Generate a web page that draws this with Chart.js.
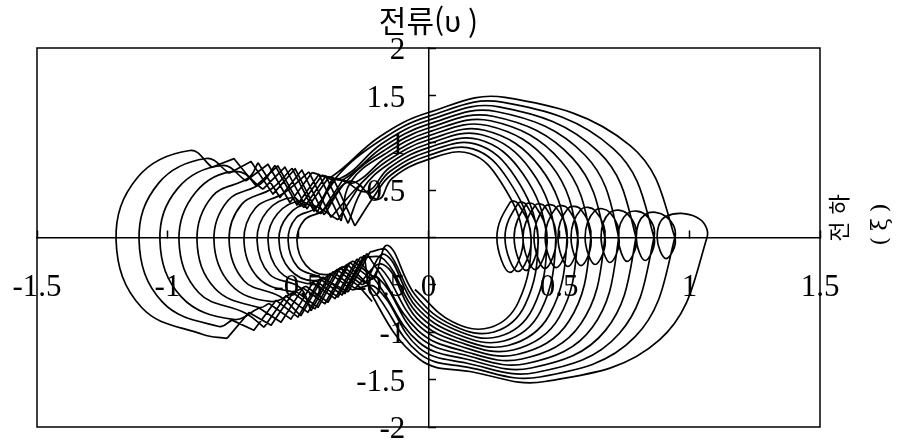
<!DOCTYPE html>
<html lang="ko">
<head>
<meta charset="utf-8">
<title>전류-전하 위상 궤적</title>
<script src="https://cdn.jsdelivr.net/npm/chart.js@4.4.1/dist/chart.umd.min.js"></script>
<style>
  html, body { margin: 0; padding: 0; background: #fff; }
  canvas { display: block; }
</style>
</head>
<body>
<canvas id="phase" width="906" height="446"></canvas>
<script>
// 축 눈금
const xTicks = [-1.5, -1, -0.5, 0, 0.5, 1, 1.5];
const yTicks = [-2, -1.5, -1, -0.5, 0, 0.5, 1, 1.5, 2];

// 왼쪽 고리 (바깥 -> 안쪽, 13회)
const leftEdge = [[-1.197,-0.03],[-1.109,-0.03],[-1.029,-0.03],[-0.956,-0.03],[-0.887,-0.03],[-0.822,-0.03],[-0.764,-0.03],[-0.707,-0.03],[-0.657,-0.03],[-0.615,-0.03],[-0.573,-0.03],[-0.538,-0.03],[-0.504,-0.03]];
const loopTop = [[-0.914,0.918],[-0.852,0.834],[-0.791,0.760],[-0.738,0.697],[-0.688,0.633],[-0.642,0.570],[-0.600,0.517],[-0.557,0.464],[-0.519,0.422],[-0.489,0.380],[-0.458,0.348],[-0.431,0.317],[-0.404,0.285]];
const loopUpperDiag = [[-1.115,0.633],[-1.034,0.574],[-0.960,0.521],[-0.892,0.477],[-0.829,0.433],[-0.769,0.387],[-0.716,0.350],[-0.663,0.312],[-0.617,0.283],[-0.578,0.253],[-0.539,0.231],[-0.507,0.208],[-0.475,0.186]];
const loopLowerDiag = [[-1.099,-0.739],[-1.020,-0.680],[-0.947,-0.627],[-0.880,-0.583],[-0.818,-0.538],[-0.759,-0.493],[-0.707,-0.456],[-0.655,-0.418],[-0.609,-0.388],[-0.571,-0.359],[-0.532,-0.337],[-0.501,-0.313],[-0.470,-0.291]];
const loopBottom = [[-0.864,-1.024],[-0.803,-0.939],[-0.749,-0.865],[-0.699,-0.802],[-0.649,-0.739],[-0.607,-0.675],[-0.569,-0.623],[-0.527,-0.570],[-0.492,-0.528],[-0.466,-0.485],[-0.435,-0.454],[-0.412,-0.422],[-0.389,-0.391]];

// 위쪽 그물 띠: 고리 꼭대기 다음 꺾임점들, 마지막 점은 큰 호 시작점
const upperBand = [
  [[-0.830,0.742],[-0.745,0.832],[-0.661,0.546],[-0.577,0.756],[-0.492,0.331],[-0.408,0.658],[-0.370,0.644]],
  [[-0.764,0.679],[-0.680,0.802],[-0.596,0.458],[-0.511,0.726],[-0.427,0.266],[-0.354,0.633]],
  [[-0.699,0.597],[-0.615,0.773],[-0.531,0.369],[-0.446,0.685],[-0.339,0.623]],
  [[-0.634,0.510],[-0.550,0.743],[-0.466,0.304],[-0.381,0.642],[-0.326,0.612]],
  [[-0.653,0.789],[-0.569,0.422],[-0.485,0.712],[-0.400,0.239],[-0.312,0.602]],
  [[-0.588,0.761],[-0.504,0.343],[-0.420,0.666],[-0.335,0.175],[-0.297,0.591]],
  [[-0.523,0.731],[-0.439,0.278],[-0.354,0.626],[-0.282,0.580]],
  [[-0.458,0.693],[-0.374,0.213],[-0.266,0.549]],
  [[-0.477,0.316],[-0.393,0.648],[-0.308,0.150],[-0.251,0.517]],
  [[-0.412,0.250],[-0.328,0.611],[-0.236,0.485]],
  [[-0.347,0.187],[-0.262,0.555],[-0.224,0.464]],
  [[-0.366,0.632],[-0.282,0.123],[-0.209,0.433]],
  [[-0.301,0.595],[-0.193,0.401]]
];

// 아래쪽 그물 띠: 첫 점은 중심 부근 진입점, 나머지는 고리 바닥 쪽으로 가는 꺾임점
const lowerBand = [
  [[-0.216,-0.675],[-0.266,-0.516],[-0.351,-0.339],[-0.435,-0.753],[-0.519,-0.583],[-0.603,-0.926],[-0.688,-0.792],[-0.772,-1.065]],
  [[-0.213,-0.623],[-0.247,-0.186],[-0.331,-0.607],[-0.416,-0.436],[-0.500,-0.840],[-0.584,-0.663],[-0.669,-0.979],[-0.753,-0.872]],
  [[-0.205,-0.580],[-0.312,-0.282],[-0.397,-0.699],[-0.481,-0.532],[-0.565,-0.894],[-0.649,-0.744]],
  [[-0.201,-0.528],[-0.293,-0.553],[-0.377,-0.379],[-0.462,-0.791],[-0.546,-0.615],[-0.630,-0.948]],
  [[-0.197,-0.475],[-0.274,-0.226],[-0.358,-0.645],[-0.443,-0.475],[-0.527,-0.862],[-0.611,-0.697]],
  [[-0.190,-0.433],[-0.255,-0.499],[-0.339,-0.322],[-0.423,-0.737],[-0.508,-0.568]],
  [[-0.186,-0.380],[-0.236,-0.169],[-0.320,-0.591],[-0.404,-0.418],[-0.489,-0.828]],
  [[-0.182,-0.327],[-0.216,-0.445],[-0.301,-0.265],[-0.385,-0.683],[-0.469,-0.515]],
  [[-0.174,-0.285],[-0.282,-0.537],[-0.366,-0.362],[-0.450,-0.775]],
  [[-0.170,-0.232],[-0.262,-0.209],[-0.347,-0.629],[-0.431,-0.458]],
  [[-0.167,-0.179],[-0.243,-0.483],[-0.328,-0.305]],
  [[-0.159,-0.137],[-0.224,-0.152],[-0.308,-0.575]],
  [[-0.155,-0.084],[-0.205,-0.430],[-0.289,-0.248]]
];

// 오른쪽 큰 호 (위쪽 절반)
const arcLead = [[-0.186,1.066],[-0.182,1.029],[-0.178,0.992],[-0.174,0.955],[-0.170,0.918],[-0.167,0.881],[-0.163,0.844],[-0.159,0.807],[-0.155,0.770],[-0.151,0.734],[-0.148,0.697],[-0.144,0.660],[-0.140,0.623]];
const arcAxisY = [1.319,1.278,1.237,1.196,1.155,1.113,1.072,1.031,0.990,0.949,0.908,0.866,0.825];
const arcTop = [[0.293,1.478],[0.282,1.428],[0.270,1.379],[0.259,1.330],[0.247,1.280],[0.238,1.232],[0.226,1.182],[0.215,1.132],[0.204,1.084],[0.193,1.034],[0.182,0.985],[0.170,0.936],[0.159,0.887]];
const arcRight = [[0.774,0.968],[0.709,0.935],[0.652,0.903],[0.599,0.871],[0.552,0.838],[0.508,0.805],[0.467,0.773],[0.428,0.740],[0.393,0.708],[0.361,0.675],[0.331,0.643],[0.305,0.611],[0.279,0.578]];

// 오른쪽 작은 타원 사슬: 중심, 반폭, 반높이
const coilX = [1.029,0.910,0.830,0.761,0.695,0.638,0.584,0.534,0.489,0.446,0.408,0.374,0.343,0.312];
const coilW = [0.038,0.034,0.034,0.034,0.034,0.038,0.038,0.038,0.042,0.042,0.046,0.046,0.050,0.050];
const coilH = [0.211,0.222,0.243,0.253,0.264,0.285,0.296,0.306,0.317,0.327,0.338,0.348,0.359,0.369];

// 오른쪽 큰 호 (아래쪽 절반)
const lowRight = [[0.885,-1.081],[0.792,-1.047],[0.731,-1.013],[0.678,-0.980],[0.628,-0.947],[0.583,-0.913],[0.539,-0.879],[0.500,-0.845],[0.464,-0.813],[0.429,-0.779],[0.400,-0.745],[0.370,-0.711],[0.345,-0.678]];
const lowBottom = [[0.446,-1.520],[0.427,-1.472],[0.412,-1.425],[0.393,-1.377],[0.377,-1.330],[0.358,-1.282],[0.339,-1.235],[0.324,-1.187],[0.305,-1.140],[0.289,-1.092],[0.270,-1.045],[0.251,-0.997],[0.236,-0.950]];
const lowLeft = [[0.159,-1.414],[0.153,-1.370],[0.148,-1.327],[0.142,-1.282],[0.136,-1.238],[0.130,-1.195],[0.125,-1.150],[0.119,-1.106],[0.113,-1.063],[0.107,-1.018],[0.102,-0.974],[0.096,-0.931],[0.090,-0.887]];
const lowInner = [[-0.033,-1.288],[-0.034,-1.226],[-0.036,-1.164],[-0.038,-1.103],[-0.039,-1.042],[-0.041,-0.979],[-0.042,-0.918],[-0.044,-0.857],[-0.045,-0.795],[-0.047,-0.734],[-0.049,-0.673],[-0.050,-0.610],[-0.052,-0.549]];

// 궤적 조립: 둥근 부분(curve)과 그물 띠의 직선 부분(mesh), NaN 으로 끊음
const gap = [NaN, NaN];
const curve = [];
const mesh = [];
for (let k = 0; k < leftEdge.length; k++) {
  const low = lowerBand[k];
  const up = upperBand[k];
  mesh.push(...(k === 0 ? low : low.slice(1)), gap);
  curve.push(low[low.length - 1], loopBottom[k], loopLowerDiag[k], leftEdge[k], loopUpperDiag[k], loopTop[k], up[0]);
  if (up.length > 2) {
    mesh.push(...up.slice(0, -1), gap);
    curve.push(gap, up[up.length - 2]);
  }
  curve.push(up[up.length - 1], arcLead[k], [0, arcAxisY[k]], arcTop[k], arcRight[k]);
  // 큰 호가 작은 타원의 오른쪽으로 내려와 한 바퀴 돈 뒤 바깥 타원으로 넘어감
  const j = k + 1;
  curve.push([coilX[j] + coilW[j], 0], [coilX[j], -coilH[j]], [coilX[j] - coilW[j], 0], [coilX[j], coilH[j]]);
  curve.push([coilX[k], coilH[k]], [coilX[k] + coilW[k], 0]);
  curve.push(lowRight[k], lowBottom[k], lowLeft[k], lowInner[k]);
  if (j < leftEdge.length) curve.push(lowerBand[j][0], lowerBand[j][1]);
  curve.push(gap);
}
const toXY = pts => pts.map(([x, y]) => ({ x, y }));

// 바깥 테두리
const frame = {
  id: 'frame',
  afterDraw(chart) {
    const { ctx, chartArea: a } = chart;
    ctx.save();
    ctx.strokeStyle = '#000';
    ctx.lineWidth = 1.5;
    ctx.strokeRect(a.left, a.top, a.right - a.left, a.bottom - a.top);
    ctx.restore();
  }
};

// 오른쪽 세로 축 이름
const sideLabel = {
  id: 'sideLabel',
  afterDraw(chart) {
    const { ctx, chartArea: a } = chart;
    const midY = chart.scales.y.getPixelForValue(0);
    ctx.save();
    ctx.fillStyle = '#000';
    ctx.textAlign = 'center';
    ctx.textBaseline = 'middle';
    ctx.translate(a.right + 19, midY - 20);
    ctx.rotate(-Math.PI / 2);
    ctx.font = "22px 'Noto Sans CJK KR'";
    ctx.letterSpacing = '7px';
    ctx.fillText('전하', 3, 0);
    ctx.restore();
    ctx.save();
    ctx.fillStyle = '#000';
    ctx.textAlign = 'center';
    ctx.textBaseline = 'middle';
    ctx.translate(a.right + 61, midY - 13);
    ctx.rotate(-Math.PI / 2);
    ctx.font = "23px 'DejaVu Serif'";
    ctx.letterSpacing = '6px';
    ctx.fillText('(ξ)', 3, 0);
    ctx.restore();
  }
};

const lineStyle = {
  showLine: true,
  borderColor: '#000',
  borderWidth: 1.7,
  borderJoinStyle: 'round',
  pointRadius: 0,
  fill: false,
  spanGaps: false
};

new Chart(document.getElementById('phase'), {
  type: 'scatter',
  data: {
    datasets: [
      { ...lineStyle, data: toXY(curve), tension: 0.4 },
      { ...lineStyle, data: toXY(mesh), tension: 0 }
    ]
  },
  options: {
    responsive: false,
    animation: false,
    devicePixelRatio: 1,
    layout: { padding: { left: 37, right: 86, top: 0, bottom: 19 } },
    plugins: {
      legend: { display: false },
      tooltip: { enabled: false },
      title: {
        display: true,
        text: '전류(υ )',
        fullSize: false,
        color: '#000',
        font: { family: "'Noto Sans CJK KR'", size: 30, weight: 'normal', lineHeight: 1.2 },
        padding: { top: 3, bottom: 9 }
      }
    },
    scales: {
      x: {
        type: 'linear',
        min: -1.5,
        max: 1.5,
        position: { y: 0 },
        afterBuildTicks: s => { s.ticks = xTicks.map(v => ({ value: v })); },
        ticks: { color: '#000', font: { family: "'Liberation Serif', serif", size: 31, lineHeight: '116px' }, padding: 0, maxRotation: 0,
          callback: v => String(v) },
        grid: { drawOnChartArea: false, tickLength: -8, color: '#000', tickWidth: 1.5 },
        border: { color: '#000', width: 1.5 }
      },
      y: {
        type: 'linear',
        min: -2,
        max: 2,
        position: { x: 0 },
        afterBuildTicks: s => { s.ticks = yTicks.map(v => ({ value: v })); },
        ticks: { color: '#000', font: { family: "'Liberation Serif', serif", size: 31 }, padding: 0, labelOffset: 3,
          callback: v => (v === 0 ? '' : v + '   ') },
        grid: { drawOnChartArea: false, tickLength: -8, color: '#000', tickWidth: 1.5 },
        border: { color: '#000', width: 1.5 }
      }
    }
  },
  plugins: [frame, sideLabel]
});
</script>
</body>
</html>
